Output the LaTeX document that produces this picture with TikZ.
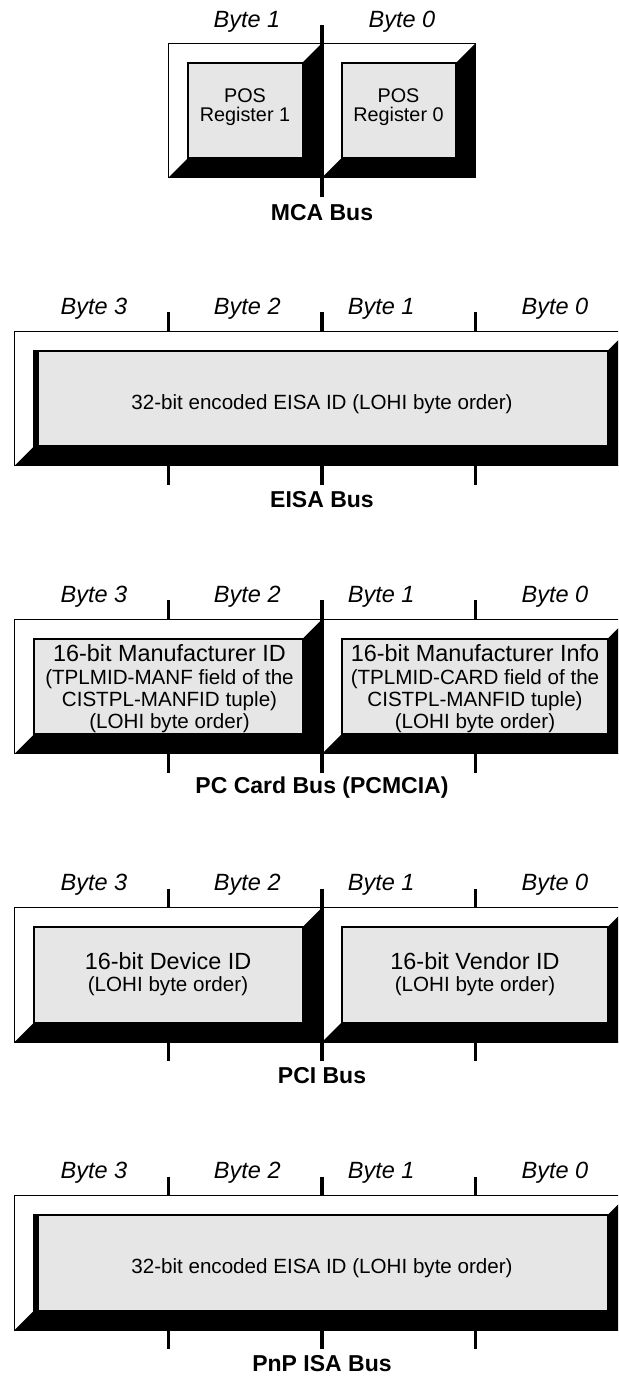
\documentclass[tikz,border=0pt]{standalone}
\usepackage{fontspec}
\setmainfont{Liberation Sans}
\usetikzlibrary{calc}
\definecolor{boxgray}{RGB}{230,230,230}
\tikzset{
  outerbox/.style={draw=black, fill=white, line width=0.55pt},
  innerbox/.style={draw=black, fill=boxgray, line width=1pt},
  bevel/.style={fill=black},
  tickline/.style={line width=1.65pt},
  bytelbl/.style={font=\fontsize{11.75}{14}\selectfont\itshape, inner sep=0pt},
  buslbl/.style={font=\fontsize{11.5}{14}\selectfont\bfseries, inner sep=0pt},
  idtxt/.style={font=\fontsize{10.3}{11.15}\selectfont, inner sep=0pt, align=center},
  postxt/.style={font=\fontsize{9.9}{9.75}\selectfont, inner sep=0pt, align=center},
}
% bevelled frame: x1 y1 x2 y2 (y grows downward)
\newcommand{\bevframe}[4]{%
  \draw[outerbox] (#1,#2) rectangle (#3,#4);
  \fill[bevel] (#1,#4) -- (#1+19.5,#4-19.5) -- (#3-19.5,#4-19.5) -- (#3-19.5,#2+19.5) -- (#3,#2) -- (#3,#4) -- cycle;
  \draw[innerbox] (#1+19.5,#2+19.5) rectangle (#3-19.5,#4-19.5);
}
\newcommand{\shortticks}[1]{%
  \foreach \tx in {#1} {
    \draw[tickline] (\tx,-19) -- (\tx,0);
    \draw[tickline] (\tx,134.5) -- (\tx,153.5);
  }%
}
\begin{document}
\begin{tikzpicture}[x=0.5pt, y=-0.5pt]
\useasboundingbox (0,0) rectangle (618,1376);
\clip (0,0) rectangle (618,1376);

% ---------------- MCA ----------------
\begin{scope}[yshift=-21.6pt]
  \bevframe{168.3}{0}{322}{134.5}
  \bevframe{322}{0}{475.7}{134.5}
  \draw[tickline] (322,-18) -- (322,153.5);
  \node[postxt] (pos1) at (245,64) {POS\\Register 1};
  \node[postxt] (pos0) at (398.5,64) {POS\\Register 0};
  \node[bytelbl] (mb1) at (247,-21.2) {Byte 1};
  \node[bytelbl] (mb0) at (402,-21.2) {Byte 0};
  \node[buslbl] (mca) at (322,169.5) {MCA Bus};
\end{scope}

% ---------------- EISA ----------------
\begin{scope}[yshift=-165.65pt]
  \bevframe{14.5}{0}{627}{134.5}
  \fill[black] (34,19.5) rectangle (38.5,115);
  \shortticks{168.3,322,475.7}
  \node[idtxt] (eisaid) at (322,72.7) {32-bit encoded EISA ID (LOHI byte order)};
  \node[bytelbl] (eb3) at (94,-22.5) {Byte 3};
  \node[bytelbl] (eb2) at (247.3,-22.5) {Byte 2};
  \node[bytelbl] (eb1) at (381.2,-22.5) {Byte 1};
  \node[bytelbl] (eb0) at (555,-22.5) {Byte 0};
  \node[buslbl] (eisa) at (322,168) {EISA Bus};
\end{scope}

% ---------------- PC Card ----------------
\begin{scope}[yshift=-309.7pt]
  \bevframe{14.5}{0}{322}{134.5}
  \bevframe{322}{0}{627}{134.5}
  \shortticks{168.3,475.7}
  \draw[tickline] (322,-19) -- (322,153.5);
  \node[idtxt] (manfid) at (169.5,69.7) {{\fontsize{11.7}{11.15}\selectfont 16-bit Manufacturer ID}\\(TPLMID-MANF field of the\\CISTPL-MANFID tuple)\\(LOHI byte order)};
  \node[idtxt] (manfinfo) at (475,69.7) {{\fontsize{11.7}{11.15}\selectfont 16-bit Manufacturer Info}\\(TPLMID-CARD field of the\\CISTPL-MANFID tuple)\\(LOHI byte order)};
  \node[bytelbl] (cb3) at (94,-22.5) {Byte 3};
  \node[bytelbl] (cb2) at (247.3,-22.5) {Byte 2};
  \node[bytelbl] (cb1) at (381.2,-22.5) {Byte 1};
  \node[bytelbl] (cb0) at (555,-22.5) {Byte 0};
  \node[buslbl] (pccard) at (322,168) {PC Card Bus (PCMCIA)};
\end{scope}

% ---------------- PCI ----------------
\begin{scope}[yshift=-453.75pt]
  \bevframe{14.5}{0}{322}{134.5}
  \bevframe{322}{0}{627}{134.5}
  \shortticks{168.3,475.7}
  \draw[tickline] (322,-19) -- (322,153.5);
  \node[idtxt] (devid) at (168,66.4) {{\fontsize{11.7}{11.15}\selectfont 16-bit Device ID}\\(LOHI byte order)};
  \node[idtxt] (venid) at (475,66.4) {{\fontsize{11.7}{11.15}\selectfont 16-bit Vendor ID}\\(LOHI byte order)};
  \node[bytelbl] (pb3) at (94,-22.5) {Byte 3};
  \node[bytelbl] (pb2) at (247.3,-22.5) {Byte 2};
  \node[bytelbl] (pb1) at (381.2,-22.5) {Byte 1};
  \node[bytelbl] (pb0) at (555,-22.5) {Byte 0};
  \node[buslbl] (pci) at (322,168) {PCI Bus};
\end{scope}

% ---------------- PnP ISA ----------------
\begin{scope}[yshift=-597.8pt]
  \bevframe{14.5}{0}{627}{134.5}
  \fill[black] (34,19.5) rectangle (38.5,115);
  \shortticks{168.3,322,475.7}
  \node[idtxt] (pnpid) at (322,72.7) {32-bit encoded EISA ID (LOHI byte order)};
  \node[bytelbl] (ib3) at (94,-22.5) {Byte 3};
  \node[bytelbl] (ib2) at (247.3,-22.5) {Byte 2};
  \node[bytelbl] (ib1) at (381.2,-22.5) {Byte 1};
  \node[bytelbl] (ib0) at (555,-22.5) {Byte 0};
  \node[buslbl] (pnp) at (322,168) {PnP ISA Bus};
\end{scope}
\end{tikzpicture}
\end{document}
